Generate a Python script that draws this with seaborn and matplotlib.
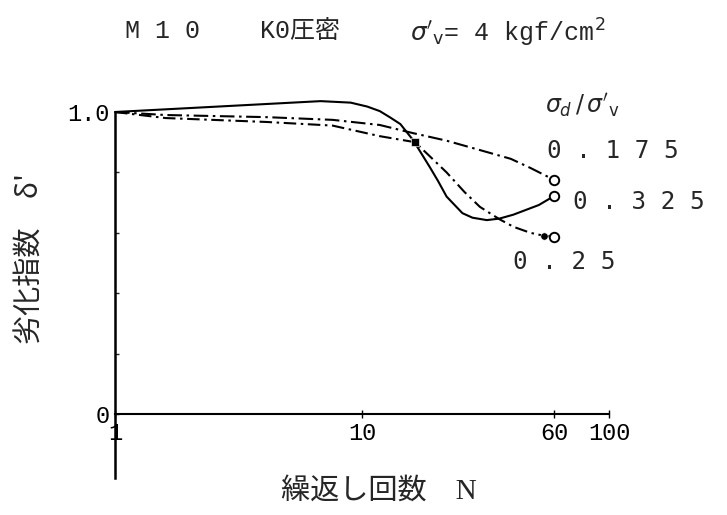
import matplotlib
matplotlib.use("Agg")
import matplotlib.pyplot as plt
from matplotlib.ticker import FixedLocator, NullLocator
import pandas as pd
import seaborn as sns

# Cyclic loading number N and deterioration index delta' for each stress ratio
N_0175 = [1, 1.6, 4.1, 7.6, 11.8, 16.1, 22, 30, 40, 48, 60]
D_0175 = [1.0, 0.99, 0.983, 0.974, 0.957, 0.93, 0.905, 0.874, 0.845, 0.815, 0.775]

N_025 = [1, 1.6, 4.1, 7.6, 11.8, 16.4, 19, 22, 26, 30, 36, 41, 48, 54.6, 60]
D_025 = [1.0, 0.98, 0.967, 0.955, 0.92, 0.90, 0.85, 0.80, 0.735, 0.686, 0.645,
         0.62, 0.60, 0.59, 0.587]

N_0325 = [1, 2, 4, 6.8, 9, 10.5, 11.8, 13, 14.3, 16.1, 18.8, 20.3, 22, 25.5,
          28, 32, 36, 41, 52, 60]
D_0325 = [1.0, 1.013, 1.026, 1.036, 1.031, 1.018, 1.003, 0.982, 0.96, 0.907,
          0.818, 0.772, 0.72, 0.665, 0.65, 0.642, 0.647, 0.66, 0.692, 0.722]

# individual measured points marked on the 0.25 curve
SQ_N, SQ_D = [16.4], [0.90]
DOT_N, DOT_D = [54.6], [0.59]

RATIO_LABELS = ["0 . 1 7 5", "0 . 2 5", "0 . 3 2 5"]
X_TICKS = [1, 10, 60, 100]
X_TICK_LABELS = ["1", "10", "60", "100"]
Y_TICKS = [0, 1.0]
Y_TICK_LABELS = ["0", "1.0"]
Y_MINOR = [0.2, 0.4, 0.6, 0.8]

sns.set_style("white")
plt.rcParams["font.family"] = ["Liberation Mono", "Noto Sans CJK JP", "DejaVu Sans"]
plt.rcParams["axes.edgecolor"] = "black"

series = [(RATIO_LABELS[0], N_0175, D_0175),
          (RATIO_LABELS[1], N_025, D_025),
          (RATIO_LABELS[2], N_0325, D_0325)]
df = pd.concat([pd.DataFrame({"N": n, "D": d, "ratio": lab}) for lab, n, d in series],
               ignore_index=True)
ends = pd.DataFrame({"N": [s[1][-1] for s in series],
                     "D": [s[2][-1] for s in series]})

W, H = 727, 515
fig = plt.figure(figsize=(W / 100, H / 100), dpi=100)
ax = fig.add_axes([115 / W, 1 - 478 / H, (609 - 115) / W, (478 - 112) / H])

dash_map = {RATIO_LABELS[0]: (7, 2.2, 1.2, 2.2),
            RATIO_LABELS[1]: (6, 2.2, 1.2, 2.2),
            RATIO_LABELS[2]: ""}
sns.lineplot(data=df, x="N", y="D", hue="ratio", style="ratio",
             palette={k: "black" for k in RATIO_LABELS}, dashes=dash_map,
             linewidth=1.5, legend=False, sort=False, estimator=None,
             clip_on=False, ax=ax)
sns.scatterplot(data=ends, x="N", y="D", marker="o", s=46, facecolor="white",
                edgecolor="black", linewidth=1.4, zorder=5, clip_on=False, ax=ax)
sns.scatterplot(x=SQ_N, y=SQ_D, marker="s", s=32, color="black", zorder=5,
                clip_on=False, ax=ax)
sns.scatterplot(x=DOT_N, y=DOT_D, marker="o", s=28, color="black", zorder=5,
                clip_on=False, ax=ax)

ax.set_xscale("log")
ax.set_xlim(1, 100)
ax.set_ylim(-0.212, 1.0)
ax.set_xlabel("")
ax.set_ylabel("")

ax.set_xticks(X_TICKS)
ax.set_xticklabels(X_TICK_LABELS)
ax.xaxis.set_minor_locator(NullLocator())
ax.get_xticklabels()[0].set_horizontalalignment("left")
ax.set_yticks(Y_TICKS)
ax.set_yticklabels(Y_TICK_LABELS)
ax.yaxis.set_minor_locator(FixedLocator(Y_MINOR))
ax.tick_params(axis="x", which="major", direction="inout", length=6, width=1,
               labelsize=17, pad=3, bottom=True, colors="black")
ax.tick_params(axis="y", which="major", direction="in", length=3, width=1,
               labelsize=17, pad=4, left=True, colors="black")
ax.tick_params(axis="y", which="minor", direction="in", length=3, width=1, left=True)

for side in ("top", "right"):
    ax.spines[side].set_visible(False)
ax.spines["left"].set_linewidth(1.8)
ax.spines["bottom"].set_linewidth(1.5)
ax.spines["bottom"].set_position(("data", 0))


def ftext(x, y, s, **kw):
    fig.text(x / W, 1 - y / H, s, **kw)


# title pieces
ftext(125, 31, "M 1 0", fontsize=18, va="center", ha="left")
ftext(260, 31, "K0圧密", fontsize=18, va="center", ha="left")
ftext(410, 33, r"$\sigma'_{\mathrm{v}}$= 4 kgf/cm$^2$", fontsize=18, va="center", ha="left")

# stress-ratio annotations
ftext(545, 105, r"$\sigma_{d}\,/\,\sigma'_{\mathrm{v}}$", fontsize=17, va="center", ha="left")
ftext(547, 151, RATIO_LABELS[0], fontsize=17.5, va="center", ha="left",
      family="DejaVu Sans Mono")
ftext(573, 202, RATIO_LABELS[2], fontsize=17.5, va="center", ha="left",
      family="DejaVu Sans Mono")
ftext(513, 262, RATIO_LABELS[1], fontsize=17.5, va="center", ha="left",
      family="DejaVu Sans Mono")

# axis titles
ftext(31, 258, "劣化指数　δ'", fontsize=21, rotation=90, va="center", ha="center",
      family=["Noto Sans CJK JP", "DejaVu Sans"])
ftext(379, 491, "繰返し回数　N", fontsize=21, va="center", ha="center",
      family=["Liberation Serif", "Noto Sans CJK JP", "DejaVu Sans"])

fig.savefig("out.png", dpi=100, facecolor="white")
